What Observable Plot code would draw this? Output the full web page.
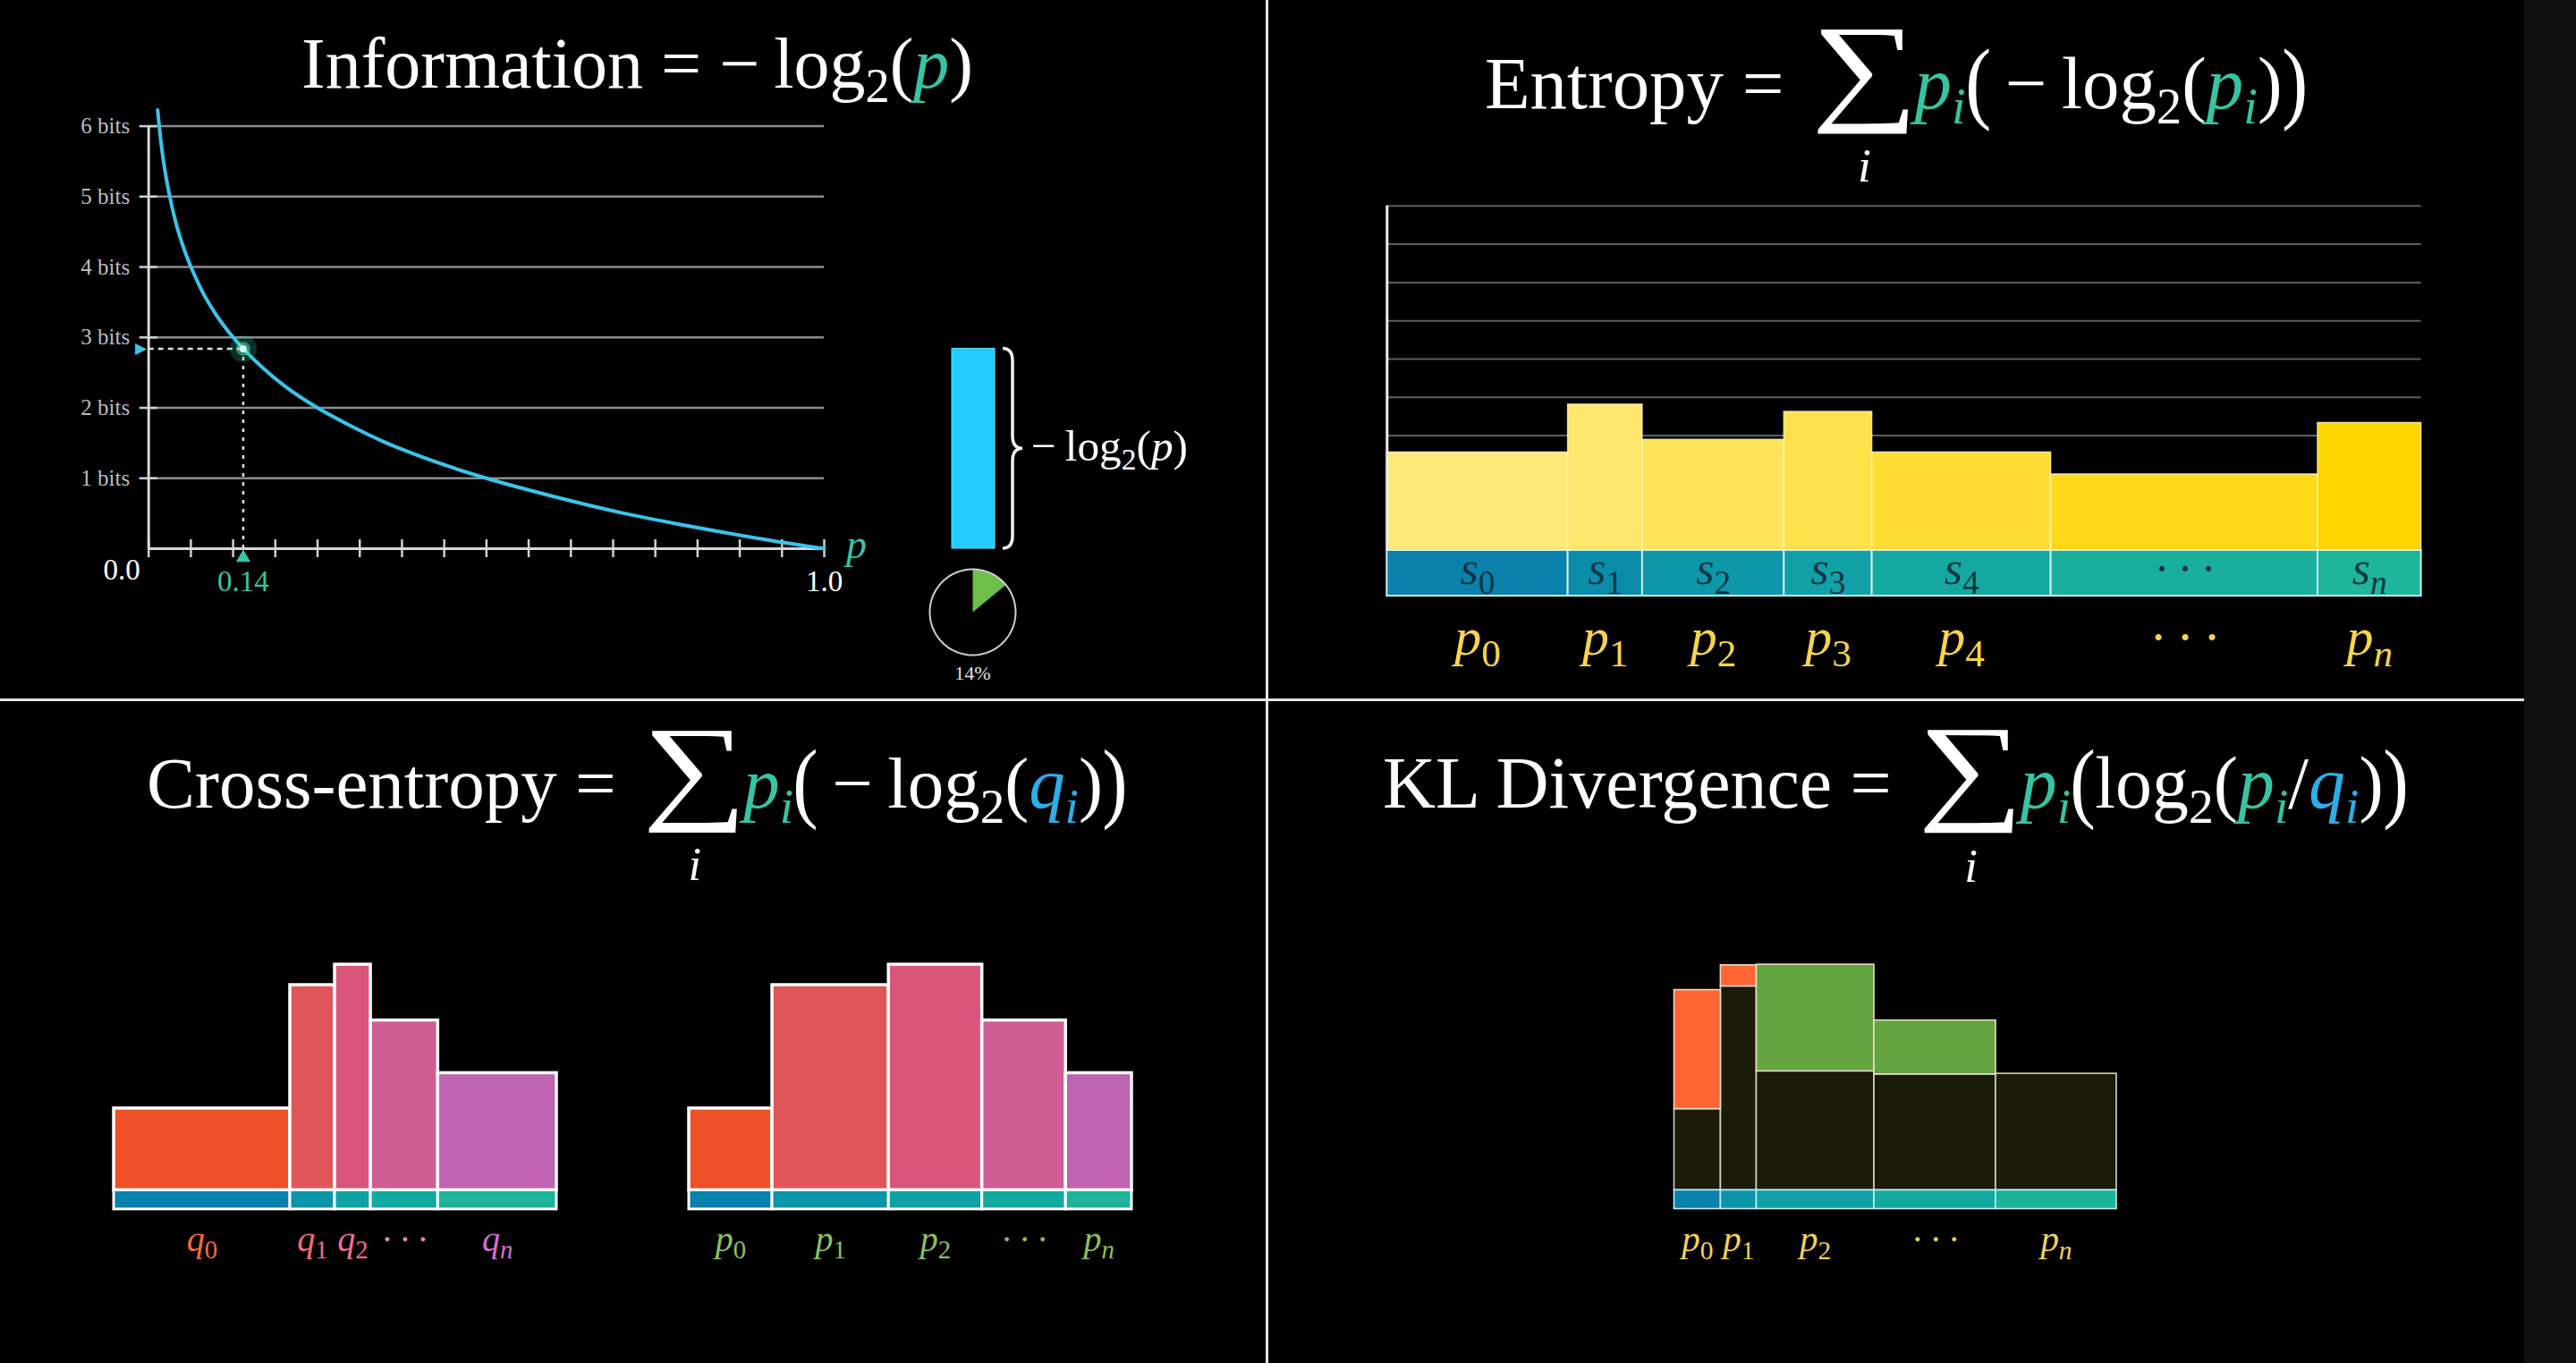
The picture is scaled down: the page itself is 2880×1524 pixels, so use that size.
<!DOCTYPE html>
<html><head><meta charset="utf-8">
<script src="https://cdn.jsdelivr.net/npm/d3@7"></script>
<script src="https://cdn.jsdelivr.net/npm/@observablehq/plot@0.6"></script>
<style>
html,body{margin:0;padding:0;background:#000;}
#stage{position:relative;width:2880px;height:1524px;background:#000;overflow:hidden;}
.t{position:absolute;left:0;top:0;white-space:nowrap;font-family:'Liberation Serif','DejaVu Serif',serif;color:#fff;line-height:1;font-size:74px;}
.t sub{font-size:0.68em;vertical-align:-0.3em;line-height:0;}
.t i{font-style:italic;}
.teal{color:#36c4a3;}
.blue{color:#2daee6;}
.bp{display:inline-block;transform:scale(1.05,1.22);transform-origin:50% 62%;}
.sum{display:inline-block;position:relative;font-size:1.62em;line-height:1;vertical-align:0;margin:0 0.06em 0 0.16em;}
.sig{display:inline-block;transform:scaleX(1.25);}
.idx{position:absolute;left:50%;top:100%;transform:translate(-50%,0.3em);font-size:0.4em;font-style:italic;}
.bl{display:inline-block;width:0;height:0;}
.div-v{position:absolute;left:1415px;top:0;width:3px;height:1524px;background:#e4e4e4;}
.div-h{position:absolute;left:0;top:781px;width:2822px;height:3px;background:#e4e4e4;}
.edge{position:absolute;left:2822px;top:0;width:58px;height:1524px;background:#101010;}
.wrap{position:absolute;}
</style></head>
<body><div id="stage">
<div class="edge"></div>
<div class="t" id="t1">Information = −&#8201;log<sub>2</sub>(<i class="teal">p</i>)<span class="bl"></span></div>
<div class="t" id="t2">Entropy = <span class="sum"><span class="sig">∑</span><span class="idx">i</span></span><i class="teal">p<sub>i</sub></i><span class="bp">(</span>&#8201;−&#8201;log<sub>2</sub>(<i class="teal">p<sub>i</sub></i>)<span class="bp">)</span><span class="bl"></span></div>
<div class="t" id="t3">Cross-entropy = <span class="sum"><span class="sig">∑</span><span class="idx">i</span></span><i class="teal">p<sub>i</sub></i><span class="bp">(</span>&#8201;−&#8201;log<sub>2</sub>(<i class="blue">q<sub>i</sub></i>)<span class="bp">)</span><span class="bl"></span></div>
<div class="t" id="t4">KL Divergence = <span class="sum"><span class="sig">∑</span><span class="idx">i</span></span><i class="teal">p<sub>i</sub></i><span class="bp">(</span>log<sub>2</sub>(<i class="teal">p<sub>i</sub></i>/<i class="blue">q<sub>i</sub></i>)<span class="bp">)</span><span class="bl"></span></div>
<div class="t" id="t5">−&#8201;log<sub>2</sub>(<i>p</i>)<span class="bl"></span></div>
<div class="div-v"></div>
<div class="div-h"></div>
</div>
<script>
// ---------------- DATA ----------------
// Information panel: points
const infoP    = [0.0133, 0.016, 0.02, 0.025, 0.03, 0.04, 0.05, 0.06, 0.07, 0.08, 0.10, 0.12, 0.14, 0.17, 0.20, 0.25, 0.30, 0.35, 0.40, 0.45, 0.50, 0.60, 0.70, 0.80, 0.90, 1.00];
const infoBits = [6.23, 5.97, 5.64, 5.32, 5.06, 4.64, 4.32, 4.06, 3.84, 3.64, 3.32, 3.06, 2.84, 2.56, 2.32, 2.00, 1.74, 1.51, 1.32, 1.15, 1.00, 0.74, 0.51, 0.32, 0.15, 0.00];
const bitTicks = [1, 2, 3, 4, 5, 6];
const bitTickLabels = ["1 bits", "2 bits", "3 bits", "4 bits", "5 bits", "6 bits"];
const xTickValues = [0, 0.0625, 0.125, 0.1875, 0.25, 0.3125, 0.375, 0.4375, 0.5, 0.5625, 0.625, 0.6875, 0.75, 0.8125, 0.875, 0.9375, 1];
const xStartLabel = "0.0";
const xEndLabel = "1.0";
const axisName = "p";
const markedP = 0.14;
const markedBits = 2.84;
const markedLabel = "0.14";
const pieShare = 0.14;
const pieLabel = "14%";

// Entropy panel
const entropyCells = ["s_0", "s_1", "s_2", "s_3", "s_4", "· · ·", "s_n"];
const entropyProbLabels = ["p_0", "p_1", "p_2", "p_3", "p_4", "· · ·", "p_n"];
const entropyP = [0.175, 0.072, 0.137, 0.085, 0.173, 0.258, 0.100];
const entropyBits = [2.56, 3.81, 2.89, 3.62, 2.56, 1.98, 3.33];
const entropyGrid = [1, 2, 3, 4, 5, 6, 7, 8, 9];

// Cross-entropy panel
const ceLabelsQ = ["q_0", "q_1", "q_2", "· · ·", "q_n"];
const ceLabelsP = ["p_0", "p_1", "p_2", "· · ·", "p_n"];
const ceQ = [0.398, 0.101, 0.081, 0.152, 0.268];
const ceP = [0.188, 0.263, 0.211, 0.189, 0.149];
const ceBits = [1.32, 3.31, 3.64, 2.74, 1.89];

// KL divergence panel
const klLabels = ["p_0", "p_1", "p_2", "· · ·", "p_n"];
const klP = [0.105, 0.081, 0.266, 0.275, 0.273];
const klInfoP = [3.23, 3.63, 1.92, 1.87, 1.88];
const klInfoQ = [1.31, 3.29, 3.64, 2.74, 1.88];

// ---------------- STYLE ----------------
const SERIF = "'Liberation Serif', 'DejaVu Serif', serif";
const TEAL = "#36c4a3", CYAN = "#3ac4ea";
const entropyBarColors = ["#FFE978", "#FFE66C", "#FFE35B", "#FFE14C", "#FFDD33", "#FFD915", "#FFD500"];
const strip7 = ["#0A80AA", "#0B8DAA", "#0E97A8", "#11A0A5", "#15A8A1", "#19AF9D", "#1EB59A"];
const strip5 = ["#0A80AC", "#0C94AA", "#0FA1A5", "#14A99F", "#1CB398"];
const ceBarColors = ["#EE5128", "#E05658", "#D9567A", "#CF5D94", "#BF62B0"];
const ceQLabelColors = ["#F8683C", "#F26B7A", "#EE6C96", "#E58CC0", "#D56CD2"];
const cePLabelColor = "#8DC05E";
const klDark = "#1B1B0A", klNeg = "#FF6633", klPos = "#64A43F", klLabelColor = "#F2D35A";
const plotStyle = {background: "transparent", overflow: "visible", maxWidth: "none", color: "#fff"};

const stage = document.getElementById("stage");
const svgns = "http://www.w3.org/2000/svg";

function subscriptify(svg) {
  svg.querySelectorAll("text").forEach(t => {
    const s = t.textContent;
    const m = s.match(/^(.+)_(.+)$/);
    if (!m) return;
    t.textContent = m[1];
    const sub = document.createElementNS(svgns, "tspan");
    sub.style.fontSize = "72%";
    sub.setAttribute("dy", "0.3em");
    sub.style.fontStyle = /^\d+$/.test(m[2]) ? "normal" : "italic";
    sub.textContent = m[2];
    t.appendChild(sub);
  });
}
function place(node, left, top) {
  const d = document.createElement("div");
  d.className = "wrap";
  d.style.left = left + "px"; d.style.top = top + "px";
  d.appendChild(node);
  stage.appendChild(d);
  subscriptify(node);
  return d;
}
function cumulate(widths) {
  let acc = 0;
  return widths.map((w, i) => { const x1 = acc; acc += w; return {i, x1, x2: acc, mid: (x1 + acc) / 2}; });
}

// ---------------- INFORMATION PANEL ----------------
const curve = infoP.map((p, i) => ({p, bits: infoBits[i]}));
const infoPlot = Plot.plot({
  width: 1000, height: 700,
  marginLeft: 165.7, marginRight: 79, marginTop: 140.6, marginBottom: 87,
  x: {domain: [0, 1], axis: null}, y: {domain: [0, 6], axis: null},
  style: plotStyle,
  marks: [
    Plot.ruleY(bitTicks, {x1: 0, x2: 1, stroke: "#8c8c8c", strokeWidth: 2.5}),
    Plot.ruleY(bitTicks, {x1: 0, x2: 0, insetLeft: -10, insetRight: -10, stroke: "#d0d0d0", strokeWidth: 2.5}),
    Plot.ruleX(xTickValues, {y1: 0, y2: 0, insetTop: -10, insetBottom: -10, stroke: "#d0d0d0", strokeWidth: 2.5}),
    Plot.ruleX([0], {y1: 0, y2: 6, stroke: "#d6d6d6", strokeWidth: 3}),
    Plot.ruleY([0], {x1: 0, x2: 1, stroke: "#d6d6d6", strokeWidth: 3}),
    Plot.text(bitTicks, {x: 0, y: d => d, text: (d, i) => bitTickLabels[i], textAnchor: "end", dx: -21, fill: "#bdbdbd", fontSize: 25, fontFamily: SERIF}),
    Plot.text([xStartLabel], {x: 0, y: 0, text: d => d, dx: -30, dy: 24, fill: "#fff", fontSize: 33, fontFamily: SERIF}),
    Plot.text([xEndLabel], {x: 1, y: 0, text: d => d, dy: 37, fill: "#fff", fontSize: 33, fontFamily: SERIF}),
    Plot.text([markedLabel], {x: markedP, y: 0, text: d => d, dy: 37, fill: TEAL, fontSize: 33, fontFamily: SERIF}),
    Plot.text([axisName], {x: 1, y: 0, text: d => d, dx: 36, dy: -4, fill: TEAL, fontSize: 46, fontStyle: "italic", fontFamily: SERIF}),
    Plot.ruleY([markedBits], {x1: 0, x2: markedP, stroke: "#e0e0e0", strokeWidth: 2.5, strokeDasharray: "6,5"}),
    Plot.ruleX([markedP], {y1: 0, y2: markedBits, stroke: "#e0e0e0", strokeWidth: 2.5, strokeDasharray: "4,6"}),
    Plot.line(curve, {x: "p", y: "bits", stroke: CYAN, strokeWidth: 4, curve: "monotone-x"}),
    Plot.dot([markedP], {x: d => d, y: markedBits, r: 15, fill: "#2fe0a8", fillOpacity: 0.22, stroke: "none"}),
    Plot.dot([markedP], {x: d => d, y: markedBits, r: 8, fill: "#5ff0c0", fillOpacity: 0.45, stroke: "none"}),
    Plot.dot([markedP], {x: d => d, y: markedBits, r: 4, fill: "#d8fff0", stroke: "none"}),
    Plot.text([markedBits], {x: 0, y: d => d, text: () => "▶", textAnchor: "end", dx: -2, fill: CYAN, fontSize: 17, fontFamily: "DejaVu Sans"}),
    Plot.dot([markedP], {x: d => d, y: 0, symbol: "triangle", r: 6, fill: TEAL, stroke: "none", dy: 10})
  ]
});
place(infoPlot, 0, 0);

// bar showing -log2(p)
const barPlot = Plot.plot({
  width: 60, height: 700, marginLeft: 0, marginRight: 12, marginTop: 140.6, marginBottom: 87,
  x: {axis: null, padding: 0}, y: {domain: [0, 6], axis: null},
  style: plotStyle,
  marks: [Plot.barY([{k: axisName, bits: markedBits}], {x: "k", y: "bits", fill: "#22CCFF", stroke: "#63dcff", strokeWidth: 1})]
});
place(barPlot, 1064, 0);
{
  const ys = barPlot.scale("y");
  const y0 = ys.apply(markedBits), y1 = ys.apply(0);
  const x = 5, w = 22, m = (y0 + y1) / 2, r = 14, h = w / 2;
  const svg = document.createElementNS(svgns, "svg");
  svg.setAttribute("width", 40); svg.setAttribute("height", 700);
  const path = document.createElementNS(svgns, "path");
  path.setAttribute("d", `M${x},${y0} Q${x+h},${y0} ${x+h},${y0+r} L${x+h},${m-r} Q${x+h},${m} ${x+w},${m} Q${x+h},${m} ${x+h},${m+r} L${x+h},${y1-r} Q${x+h},${y1} ${x},${y1}`);
  path.setAttribute("fill", "none"); path.setAttribute("stroke", "#f2f2f2"); path.setAttribute("stroke-width", 3.5);
  svg.appendChild(path);
  const d = document.createElement("div"); d.className = "wrap"; d.style.left = "1116px"; d.style.top = "0px";
  d.appendChild(svg); stage.appendChild(d);
}

// pie
const circlePts = d3.range(0, 361, 4).map(a => [Math.cos(a * Math.PI / 180), Math.sin(a * Math.PI / 180)]);
const wedgePts = [[0, 0], ...d3.range(0, 61).map(k => {
  const a = Math.PI / 2 - (k / 60) * pieShare * 2 * Math.PI; return [Math.cos(a), Math.sin(a)];
}), [0, 0]];
const piePlot = Plot.plot({
  width: 120, height: 160, marginLeft: 0, marginRight: 0, marginTop: 0, marginBottom: 40,
  x: {domain: [-1.25, 1.25], axis: null}, y: {domain: [-1.25, 1.25], axis: null},
  style: plotStyle,
  marks: [
    Plot.line(wedgePts, {x: d => d[0], y: d => d[1], fill: "#6cbf48", stroke: "none"}),
    Plot.line(circlePts, {x: d => d[0], y: d => d[1], stroke: "#cfcfcf", strokeWidth: 2}),
    Plot.text([pieLabel], {x: 0, y: -1, text: d => d, dy: 20, fill: "#e0e0e0", fontSize: 22, fontFamily: SERIF})
  ]
});
place(piePlot, 1027, 624);

// ---------------- ENTROPY PANEL ----------------
const ent = cumulate(entropyP).map(d => ({...d, cell: entropyCells[d.i], label: entropyProbLabels[d.i], bits: entropyBits[d.i]}));
const entPlot = Plot.plot({
  width: 1300, height: 650, marginLeft: 50.3, marginRight: 93.4, marginTop: 79.8, marginBottom: 185,
  x: {domain: [0, 1], axis: null}, y: {domain: [0, 9], axis: null}, color: {type: "identity"},
  style: plotStyle,
  marks: [
    Plot.ruleY(entropyGrid, {x1: 0, x2: 1, stroke: "#5e5e5e", strokeWidth: 2}),
    Plot.rect(ent, {x1: "x1", x2: "x2", y1: 0, y2: "bits", fill: d => entropyBarColors[d.i], stroke: "#fff6c8", strokeWidth: 1.5, strokeOpacity: 0.8}),
    Plot.ruleX([0], {y1: 0, y2: 9, stroke: "#ececec", strokeWidth: 3}),
    Plot.rect(ent, {x1: "x1", x2: "x2", y1: 0, y2: 0, insetBottom: -51, fill: d => strip7[d.i], stroke: "#c8f0f0", strokeWidth: 2}),
    Plot.text(ent, {x: "mid", y: 0, dy: 21, text: "cell", fill: "#0c3444", fontSize: 52, fontStyle: "italic", fontFamily: SERIF}),
    Plot.text(ent, {x: "mid", y: 0, dy: 97, text: "label", fill: "#F7D44C", fontSize: 60, fontStyle: "italic", fontFamily: SERIF})
  ]
});
place(entPlot, 1500, 150);

// ---------------- CROSS-ENTROPY PANEL ----------------
function cePlot(widths, labels, labelColor, mL, mR) {
  const rows = cumulate(widths).map(d => ({...d, bits: ceBits[d.i], label: labels[d.i]}));
  return Plot.plot({
    width: 700, height: 500, marginLeft: mL, marginRight: mR, marginTop: 103.2, marginBottom: 119.6,
    x: {domain: [0, 1], axis: null}, y: {domain: [0, 4], axis: null}, color: {type: "identity"},
    style: plotStyle,
    marks: [
      Plot.rect(rows, {x1: "x1", x2: "x2", y1: 0, y2: "bits", fill: d => ceBarColors[d.i], stroke: "#ffffff", strokeWidth: 3.5}),
      Plot.rect(rows, {x1: "x1", x2: "x2", y1: 0, y2: 0, insetBottom: -21.4, fill: d => strip5[d.i], stroke: "#ffffff", strokeWidth: 3}),
      Plot.text(rows, {x: "mid", y: 0, dy: 55, text: "label", fill: d => labelColor(d.i), fontSize: 40, fontStyle: "italic", fontFamily: SERIF})
    ]
  });
}
place(cePlot(ceQ, ceLabelsQ, i => ceQLabelColors[i], 127, 78), 0, 950);
place(cePlot(ceP, ceLabelsP, () => cePLabelColor, 70, 135), 700, 950);

// ---------------- KL PANEL ----------------
const kl = cumulate(klP).map(d => {
  const a = klInfoP[d.i], b = klInfoQ[d.i];
  return {...d, label: klLabels[d.i], lo: Math.min(a, b), hi: Math.max(a, b), kind: b > a ? "pos" : b < a ? "neg" : "zero"};
});
const klPlot = Plot.plot({
  width: 700, height: 500, marginLeft: 71.5, marginRight: 134, marginTop: 103.2, marginBottom: 119.6,
  x: {domain: [0, 1], axis: null}, y: {domain: [0, 4], axis: null}, color: {type: "identity"},
  style: plotStyle,
  marks: [
    Plot.rect(kl, {x1: "x1", x2: "x2", y1: 0, y2: "lo", fill: klDark, stroke: "#d4d4c0", strokeWidth: 1.6}),
    Plot.rect(kl.filter(d => d.kind !== "zero"), {x1: "x1", x2: "x2", y1: "lo", y2: "hi", fill: d => d.kind === "pos" ? klPos : klNeg, stroke: "#e8dccc", strokeWidth: 1.6}),
    Plot.rect(kl, {x1: "x1", x2: "x2", y1: 0, y2: 0, insetBottom: -21, fill: d => strip5[d.i], stroke: "#bfeef5", strokeWidth: 1.6}),
    Plot.text(kl, {x: "mid", y: 0, dy: 55, text: "label", fill: klLabelColor, fontSize: 41, fontStyle: "italic", fontFamily: SERIF})
  ]
});
place(klPlot, 1800, 950);

// ---------------- TITLES ----------------
function fitTitle(id, left, right, baseline) {
  const el = document.getElementById(id);
  for (let k = 0; k < 2; k++) {
    const r = el.getBoundingClientRect();
    el.style.fontSize = (parseFloat(getComputedStyle(el).fontSize) * (right - left) / r.width) + "px";
  }
  const r = el.getBoundingClientRect();
  el.style.left = (parseFloat(el.style.left || 0) + left - r.left) + "px";
  const bl = el.querySelector(".bl").getBoundingClientRect().top;
  el.style.top = (parseFloat(el.style.top || 0) + baseline - bl) + "px";
  // keep the big summation sign fully inside the page
  const sig = el.querySelector(".sig");
  if (sig) {
    const rg = document.createRange(); rg.selectNodeContents(sig);
    const top = rg.getBoundingClientRect().top;
    if (top < 1) el.style.top = (parseFloat(el.style.top) + 1 - top) + "px";
  }
}
function fitAll() {
  fitTitle("t1", 337, 1088, 98);
  fitTitle("t2", 1660, 2579, 110);
  fitTitle("t3", 164, 1260, 903);
  fitTitle("t4", 1546, 2692, 903);
  fitTitle("t5", 1153, 1328, 515);
}
fitAll();
if (document.fonts && document.fonts.ready) document.fonts.ready.then(fitAll);
</script>
</body></html>
